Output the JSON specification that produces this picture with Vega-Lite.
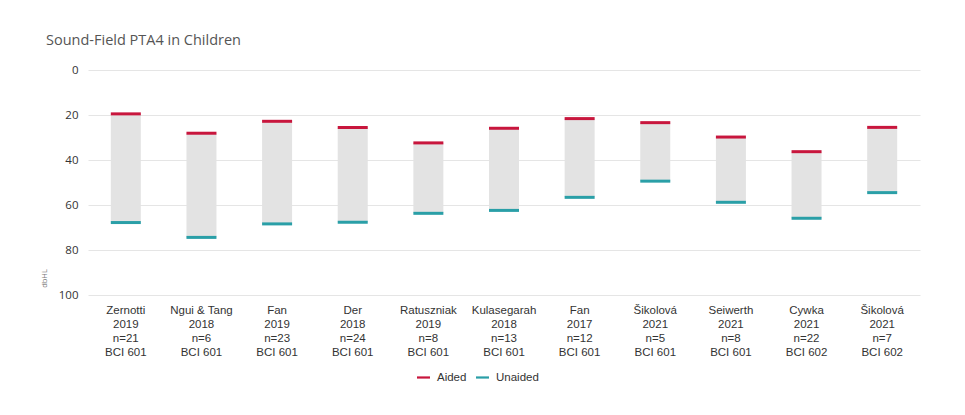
{
  "$schema": "https://vega.github.io/schema/vega-lite/v6.json",
  "width": 832,
  "height": 225,
  "autosize": {"type": "none"},
  "padding": {"left": 88, "top": 70, "right": 45, "bottom": 120},
  "background": "white",
  "title": {
    "text": "Sound-Field PTA4 in Children",
    "anchor": "start",
    "frame": "group",
    "dx": -42,
    "offset": 22,
    "dy": 6,
    "font": "Open Sans",
    "fontSize": 14.5,
    "fontWeight": "normal",
    "color": "#555555"
  },
  "config": {
    "view": {"stroke": null},
    "axis": {"labelFont": "Open Sans"}
  },
  "data": {
    "values": [
      {"study": "Zernotti|2019|n=21|BCI 601", "Aided": 19.5, "Unaided": 67.8},
      {"study": "Ngui & Tang|2018|n=6|BCI 601", "Aided": 28.1, "Unaided": 74.4},
      {"study": "Fan|2019|n=23|BCI 601", "Aided": 22.8, "Unaided": 68.4},
      {"study": "Der|2018|n=24|BCI 601", "Aided": 25.6, "Unaided": 67.7},
      {"study": "Ratuszniak|2019|n=8|BCI 601", "Aided": 32.4, "Unaided": 63.7},
      {"study": "Kulasegarah|2018|n=13|BCI 601", "Aided": 25.9, "Unaided": 62.4},
      {"study": "Fan|2017|n=12|BCI 601", "Aided": 21.6, "Unaided": 56.6},
      {"study": "Šikolová|2021|n=5|BCI 601", "Aided": 23.4, "Unaided": 49.4},
      {"study": "Seiwerth|2021|n=8|BCI 601", "Aided": 29.8, "Unaided": 58.8},
      {"study": "Cywka|2021|n=22|BCI 602", "Aided": 36.3, "Unaided": 65.9},
      {"study": "Šikolová|2021|n=7|BCI 602", "Aided": 25.5, "Unaided": 54.5}
    ]
  },
  "encoding": {
    "x": {
      "field": "study",
      "type": "nominal",
      "sort": null,
      "scale": {"paddingInner": 0.6, "paddingOuter": 0.3},
      "axis": {
        "title": null,
        "labelAngle": 0,
        "labelExpr": "split(datum.label, '|')",
        "labelFont": "Liberation Sans",
        "labelFontSize": 11.5,
        "labelLineHeight": 14,
        "labelColor": "#333333",
        "labelPadding": 9,
        "domain": false,
        "ticks": false,
        "labelBaseline": "top"
      }
    }
  },
  "layer": [
    {
      "mark": {"type": "bar", "color": "#e3e3e3", "size": 30},
      "encoding": {
        "y": {
          "field": "Aided",
          "type": "quantitative",
          "scale": {"domain": [0, 100], "reverse": true, "nice": false},
          "axis": {
            "title": "dbHL",
            "titleFont": "Open Sans",
            "titleFontSize": 7.5,
            "titleFontWeight": "normal",
            "titleColor": "#777777",
            "titleAngle": -90,
            "titleX": -44,
            "titleY": 208,
            "titleAlign": "center",
            "titleBaseline": "middle",
            "values": [0, 20, 40, 60, 80, 100],
            "labelFont": "Open Sans",
            "labelFontSize": 11.5,
            "labelColor": "#333333",
            "labelPadding": 10,
            "domain": false,
            "ticks": false,
            "gridColor": "#e5e5e5"
          }
        },
        "y2": {"field": "Unaided"}
      }
    },
    {
      "transform": [{"fold": ["Aided", "Unaided"], "as": ["type", "value"]}],
      "mark": {"type": "tick", "size": 30, "thickness": 3, "opacity": 1},
      "encoding": {
        "y": {"field": "value", "type": "quantitative"},
        "color": {
          "field": "type",
          "type": "nominal",
          "scale": {"domain": ["Aided", "Unaided"], "range": ["#c8163d", "#2a9fa7"]},
          "legend": {
            "title": null,
            "orient": "none",
            "direction": "horizontal",
            "legendX": 328,
            "legendY": 300,
            "symbolType": "M -1 -0.17 L 1 -0.17 L 1 0.17 L -1 0.17 Z",
            "symbolOpacity": 1,
            "symbolSize": 170,
            "labelFont": "Liberation Sans",
            "labelFontSize": 11.5,
            "labelColor": "#333333",
            "columnPadding": 8,
            "labelOffset": 6
          }
        }
      }
    }
  ]
}
